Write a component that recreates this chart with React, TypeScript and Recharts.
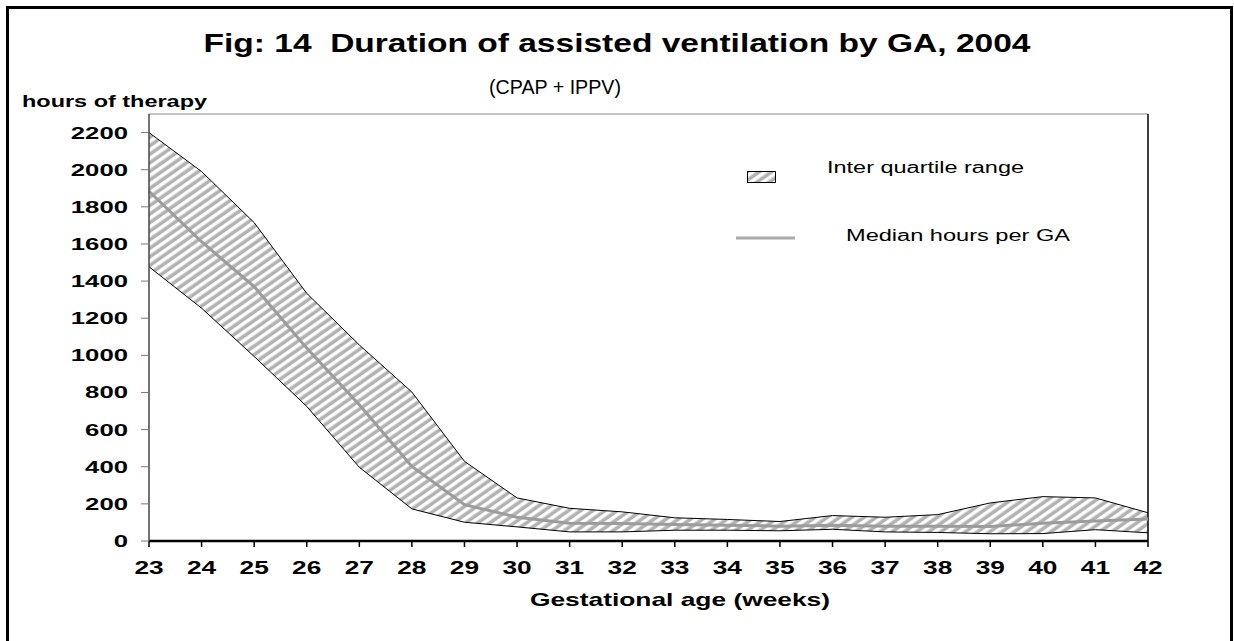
import React from 'react';
import { ComposedChart, Area, Line, XAxis, YAxis, ReferenceLine } from 'recharts';

const gaWeeks = [23, 24, 25, 26, 27, 28, 29, 30, 31, 32, 33, 34, 35, 36, 37, 38, 39, 40, 41, 42];
const upperQuartile = [2200, 1990, 1715, 1334, 1056, 802, 429, 232, 176, 157, 125, 116, 105, 137, 128, 142, 205, 239, 232, 152];
const medianHours = [1884, 1612, 1370, 1039, 734, 402, 196, 128, 96, 94, 89, 85, 80, 85, 80, 80, 78, 96, 108, 119];
const lowerQuartile = [1477, 1254, 994, 725, 397, 173, 101, 76, 49, 49, 58, 58, 55, 63, 49, 46, 39, 40, 61, 44];
const yTicks = [0, 200, 400, 600, 800, 1000, 1200, 1400, 1600, 1800, 2000, 2200];

const data = gaWeeks.map((g, i) => ({
  ga: g,
  band: [lowerQuartile[i], upperQuartile[i]],
  upper: upperQuartile[i],
  lower: lowerQuartile[i],
  median: medianHours[i],
}));

const FONT = '"Liberation Sans", Arial, sans-serif';

const YTick = (props: any) => {
  const { x, y, payload } = props;
  const s = String(payload.value);
  return (
    <text x={x} y={y} dy={6} textAnchor="end" fontFamily={FONT} fontWeight="bold" fontSize={17}
      textLength={s.length * 14.3} lengthAdjust="spacingAndGlyphs" fill="#000">{s}</text>
  );
};

const XTick = (props: any) => {
  const { x, y, payload } = props;
  const s = String(payload.value);
  return (
    <text x={x} y={y} dy={17} textAnchor="middle" fontFamily={FONT} fontWeight="bold" fontSize={18}
      textLength={s.length * 14.6} lengthAdjust="spacingAndGlyphs" fill="#000">{s}</text>
  );
};

const Hatch = ({ id }: { id: string }) => (
  <pattern id={id} patternUnits="userSpaceOnUse" width="7" height="7" patternTransform="rotate(55)">
    <rect width="7" height="7" fill="#ffffff" />
    <rect x="0.5" width="3.6" height="7" fill="#b2b2b2" />
  </pattern>
);

export default function App() {
  return (
    <div style={{ position: 'absolute', left: 0, top: 0, width: 1234, height: 641, background: '#fff', overflow: 'hidden' }}>
      <ComposedChart width={1234} height={641} data={data}
        margin={{ top: 114, right: 86, left: 0, bottom: 70 }}>
        <defs>
          <Hatch id="hatch" />
        </defs>
        <XAxis dataKey="ga" type="category" height={30} tick={<XTick />} tickSize={6} tickMargin={10}
          axisLine={{ stroke: '#000', strokeWidth: 2.5 }} tickLine={{ stroke: '#000', strokeWidth: 1.5 }} interval={0} />
        <YAxis domain={[0, 2300]} ticks={yTicks} width={149} tick={<YTick />} tickSize={8} tickMargin={13}
          axisLine={{ stroke: '#444', strokeWidth: 1.5 }} tickLine={{ stroke: '#777', strokeWidth: 1 }} allowDataOverflow />
        <ReferenceLine y={2300} stroke="#888" strokeWidth={1} />
        <ReferenceLine x={42} stroke="#000" strokeWidth={1.5} />
        <Area dataKey="band" type="linear" stroke="none" fill="url(#hatch)" fillOpacity={1} isAnimationActive={false} />
        <Line dataKey="upper" type="linear" stroke="#000" strokeWidth={1} dot={false} isAnimationActive={false} />
        <Line dataKey="lower" type="linear" stroke="#000" strokeWidth={1} dot={false} isAnimationActive={false} />
        <Line dataKey="median" type="linear" stroke="#9c9c9c" strokeWidth={3} dot={false} isAnimationActive={false} />
      </ComposedChart>
      <svg width={1234} height={641} style={{ position: 'absolute', left: 0, top: 0, pointerEvents: 'none' }}>
        <defs>
          <Hatch id="hatchLegend" />
        </defs>
        <rect x={7.5} y={7.5} width={1224} height={700} fill="none" stroke="#000" strokeWidth={3} />
        <text x={617} y={52} textAnchor="middle" fontFamily={FONT} fontWeight="bold" fontSize={25}
          style={{ whiteSpace: 'pre' }} xmlSpace="preserve"
          textLength={827} lengthAdjust="spacingAndGlyphs">{'Fig: 14  Duration of assisted ventilation by GA, 2004'}</text>
        <text x={555} y={94} textAnchor="middle" fontFamily={FONT} fontSize={21}
          textLength={132} lengthAdjust="spacingAndGlyphs">(CPAP + IPPV)</text>
        <text x={22} y={107} fontFamily={FONT} fontWeight="bold" fontSize={16.5}
          textLength={185} lengthAdjust="spacingAndGlyphs">hours of therapy</text>
        <text x={680} y={606} textAnchor="middle" fontFamily={FONT} fontWeight="bold" fontSize={18.5}
          textLength={300} lengthAdjust="spacingAndGlyphs">Gestational age (weeks)</text>
        <rect x={747.5} y={171.5} width={28} height={11} fill="url(#hatchLegend)" stroke="#000" strokeWidth={1} />
        <text x={827} y={173} fontFamily={FONT} fontSize={16}
          textLength={197} lengthAdjust="spacingAndGlyphs">Inter quartile range</text>
        <line x1={736} x2={795} y1={238} y2={238} stroke="#aaa" strokeWidth={3} />
        <text x={846} y={241} fontFamily={FONT} fontSize={16}
          textLength={224} lengthAdjust="spacingAndGlyphs">Median hours per GA</text>
      </svg>
    </div>
  );
}
